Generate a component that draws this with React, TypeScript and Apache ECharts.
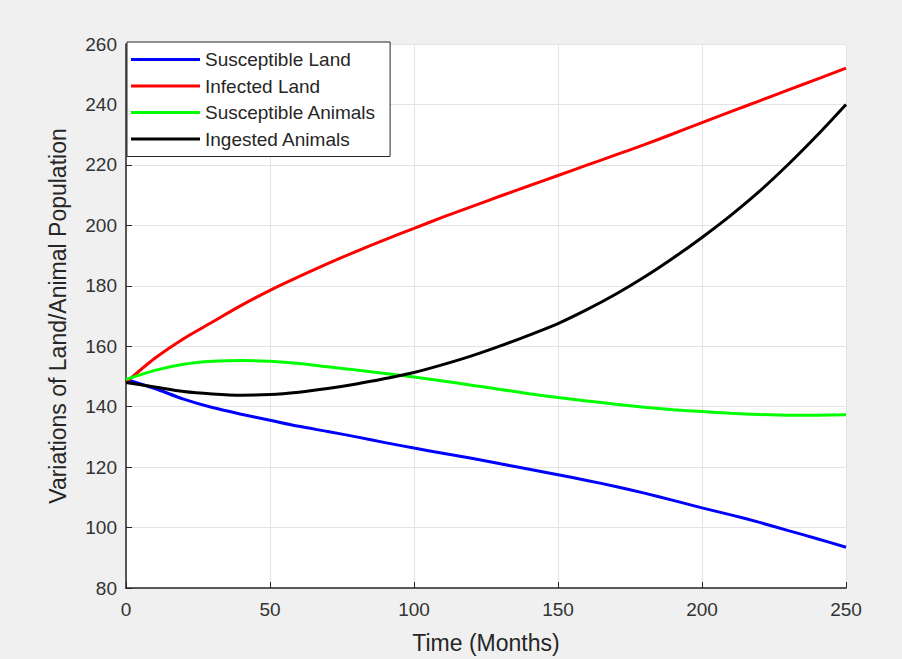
import React, { useEffect, useRef } from "react";
import * as echarts from "echarts";

const months = [0, 10, 20, 30, 40, 50, 60, 70, 80, 90, 100, 110, 120, 130, 140, 150, 160, 170, 180, 190, 200, 210, 220, 230, 240, 250];
const susceptibleLand = [149, 146, 142.5, 139.7, 137.5, 135.5, 133.5, 131.8, 130, 128.1, 126.3, 124.6, 122.9, 121.1, 119.3, 117.5, 115.6, 113.6, 111.4, 109, 106.5, 104.2, 101.7, 99, 96.3, 93.5];
const infectedLand = [148, 156, 162.5, 168, 173.5, 178.5, 183, 187.3, 191.4, 195.3, 199, 202.7, 206.2, 209.7, 213.1, 216.5, 219.9, 223.3, 226.7, 230.3, 234, 237.6, 241.2, 244.8, 248.4, 252];
const susceptibleAnimals = [149, 152, 154, 155, 155.3, 155, 154.3, 153.2, 152.1, 151, 149.8, 148.5, 147.1, 145.7, 144.3, 143, 141.9, 140.8, 139.8, 139, 138.4, 137.8, 137.4, 137.2, 137.2, 137.3];
const ingestedAnimals = [148, 146.5, 145, 144.2, 143.8, 144, 144.8, 146, 147.5, 149.3, 151.3, 153.9, 156.8, 160.1, 163.7, 167.5, 172.1, 177.2, 182.9, 189.2, 196, 203.3, 211.3, 220.2, 229.8, 240];

const seriesNames = ["Susceptible Land", "Infected Land", "Susceptible Animals", "Ingested Animals"];
const seriesColors = ["#0000ff", "#ff0000", "#00ff00", "#000000"];
const seriesValues = [susceptibleLand, infectedLand, susceptibleAnimals, ingestedAnimals];

const FONT = "'Liberation Sans', Arial, Helvetica, sans-serif";

export default function App() {
  const ref = useRef<HTMLDivElement>(null);
  useEffect(() => {
    if (!ref.current) return;
    const chart = echarts.init(ref.current, null, { renderer: "svg" });
    chart.setOption({
      animation: false,
      backgroundColor: "#f0f0f0",
      textStyle: { fontFamily: FONT },
      grid: {
        left: 126,
        right: 56,
        top: 44,
        bottom: 67,
        show: true,
        backgroundColor: "#ffffff",
        borderWidth: 0,
      },
      legend: {
        left: 127,
        top: 42,
        orient: "vertical",
        backgroundColor: "#ffffff",
        borderColor: "#262626",
        borderWidth: 1,
        borderRadius: 0,
        padding: [8, 14, 8, 4],
        itemGap: 7.5,
        itemWidth: 69,
        itemHeight: 3,
        icon: "rect",
        textStyle: { fontSize: 19, color: "#262626", fontFamily: FONT },
        data: seriesNames,
      },
      xAxis: {
        type: "value",
        min: 0,
        max: 250,
        interval: 50,
        name: "Time (Months)",
        nameLocation: "middle",
        nameGap: 43,
        nameTextStyle: { fontSize: 23, color: "#262626", fontFamily: FONT },
        axisLine: { show: true, onZero: false, lineStyle: { color: "#262626", width: 1.5 } },
        axisTick: { show: true, inside: true, length: 6, lineStyle: { color: "#262626" } },
        axisLabel: { fontSize: 19, color: "#333333", margin: 12, fontFamily: FONT },
        splitLine: { show: true, lineStyle: { color: "#e3e3e3", width: 1 } },
      },
      yAxis: {
        type: "value",
        min: 80,
        max: 260,
        interval: 20,
        name: "Variations of Land/Animal Population",
        nameLocation: "middle",
        nameGap: 57,
        nameTextStyle: { fontSize: 23, color: "#262626", fontFamily: FONT },
        axisLine: { show: true, onZero: false, lineStyle: { color: "#262626", width: 1.5 } },
        axisTick: { show: true, inside: true, length: 6, lineStyle: { color: "#262626" } },
        axisLabel: { fontSize: 19, color: "#333333", margin: 9, fontFamily: FONT },
        splitLine: { show: true, lineStyle: { color: "#e3e3e3", width: 1 } },
      },
      series: seriesNames.map((name, i) => ({
        name,
        type: "line",
        smooth: 0.3,
        symbol: "none",
        color: seriesColors[i],
        lineStyle: { color: seriesColors[i], width: 3 },
        data: months.map((m, j) => [m, seriesValues[i][j]]),
      })),
    });
    return () => chart.dispose();
  }, []);
  return (
    <div
      ref={ref}
      style={{ position: "fixed", left: 0, top: 0, width: 902, height: 659 }}
    />
  );
}
